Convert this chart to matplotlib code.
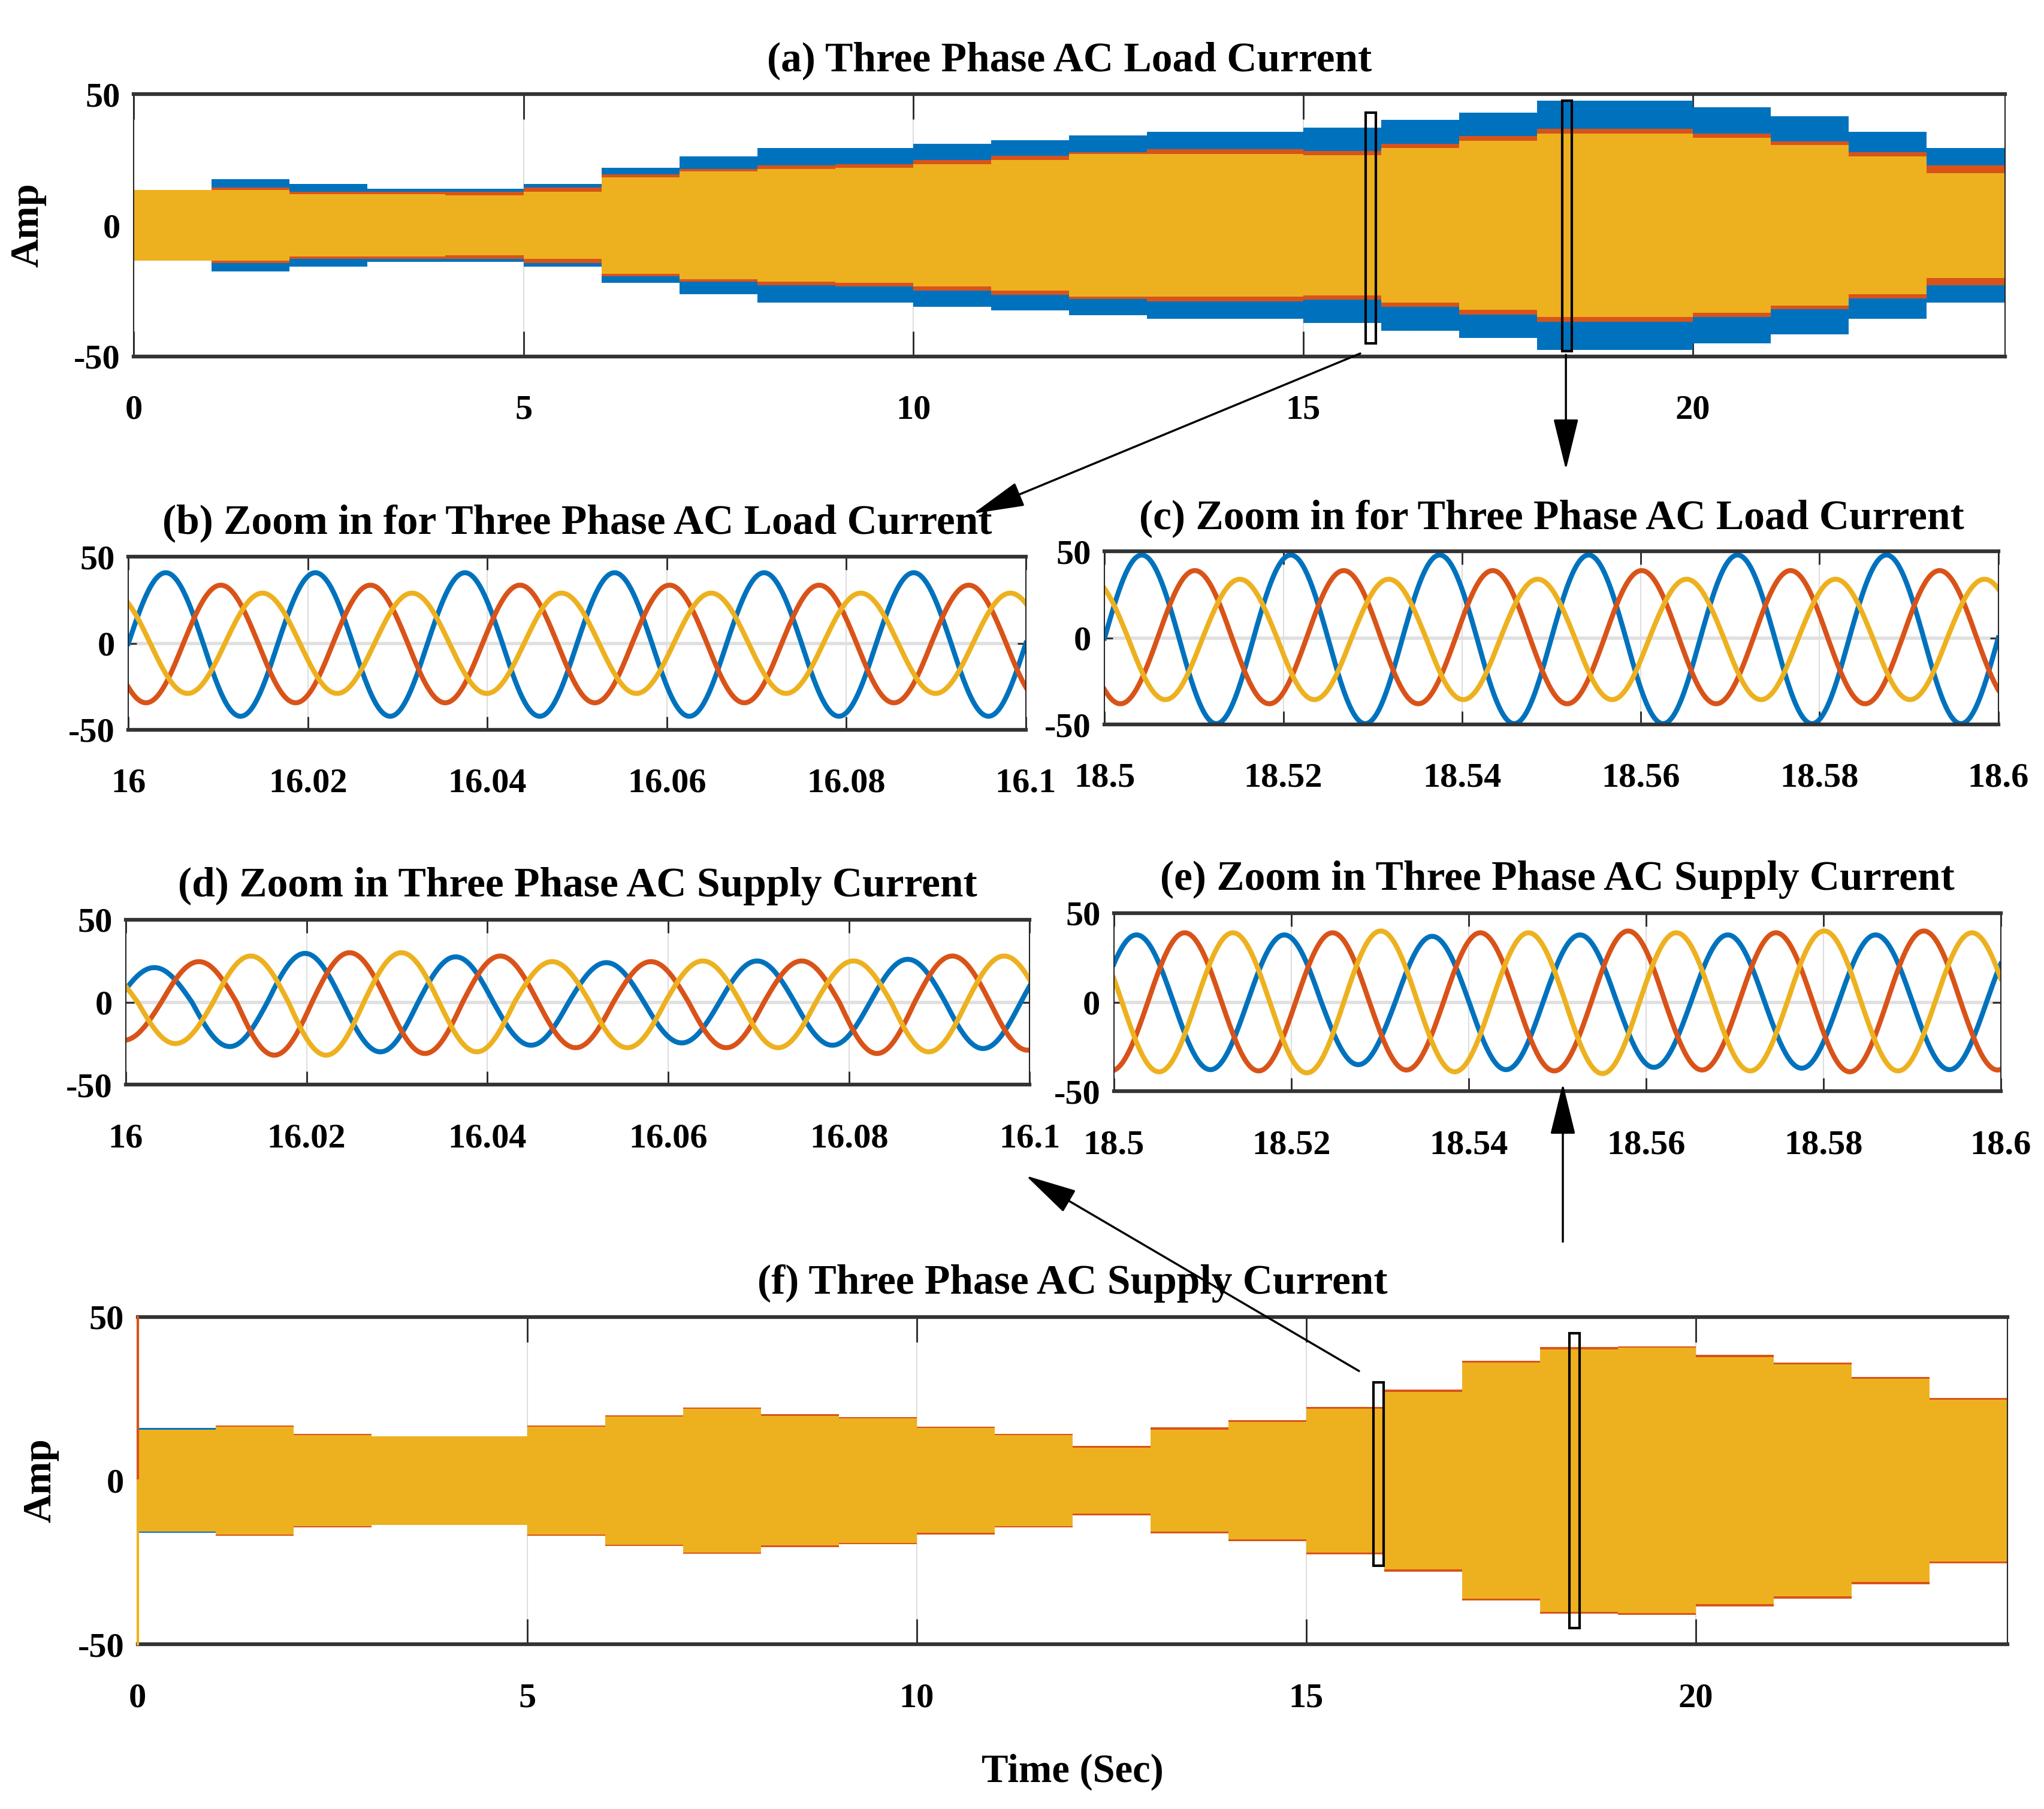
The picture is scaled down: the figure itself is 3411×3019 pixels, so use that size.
import numpy as np
import matplotlib.pyplot as plt
from matplotlib.patches import Rectangle, FancyArrowPatch

plt.rcParams['font.family'] = ['Liberation Serif', 'DejaVu Serif']
plt.rcParams['font.weight'] = 'bold'
plt.rcParams['axes.titleweight'] = 'bold'
plt.rcParams['axes.labelweight'] = 'bold'
plt.rcParams['axes.unicode_minus'] = False

# MATLAB default colour order: phase a, b, c
c_a, c_b, c_c = '#0072BD', '#D95319', '#EDB120'

## Data
# hourly (1 s per hour) peak amplitude of each phase, 0..24 s
hours = np.arange(25)
load_a = [12.0, 17.6, 15.8, 14.0, 14.0, 15.8, 22.0, 26.2, 29.5, 29.5, 31.0, 32.5,
          34.3, 35.6, 35.6, 37.3, 40.2, 43.0, 47.6, 47.6, 45.0, 41.7, 35.6, 29.5]
load_b = [12.0, 14.5, 12.9, 12.9, 12.9, 14.5, 19.5, 21.4, 22.8, 23.4, 25.0, 26.5,
          28.0, 29.0, 29.0, 28.4, 31.0, 34.0, 36.7, 36.7, 35.0, 32.0, 27.8, 22.8]
load_c = [13.4, 13.4, 11.8, 11.8, 11.4, 12.9, 18.4, 20.6, 21.4, 22.0, 23.4, 25.0,
          27.3, 27.3, 27.3, 26.7, 29.5, 32.3, 35.0, 35.0, 33.4, 30.6, 26.2, 20.0]

supply_a = [16.0, 16.2, 13.7, 13.5, 13.5, 16.2, 19.4, 21.6, 19.6, 18.8, 15.8, 13.7,
            10.3, 15.4, 17.7, 21.6, 26.8, 35.8, 39.8, 40.3, 37.5, 35.5, 30.8, 24.5]
supply_b = [15.2, 16.9, 14.2, 13.4, 13.4, 16.8, 20.0, 22.3, 20.3, 19.4, 16.4, 14.2,
            10.6, 16.2, 18.4, 22.5, 27.8, 36.6, 40.7, 41.0, 38.4, 36.0, 31.6, 25.2]
supply_c = [15.6, 16.5, 13.9, 13.6, 13.6, 16.4, 19.6, 21.9, 19.8, 19.0, 16.0, 13.9,
            10.0, 15.6, 17.9, 21.9, 27.0, 36.0, 40.0, 40.5, 37.7, 35.4, 31.0, 24.7]
supply_spike = [50, -50]   # start-up transient at t = 0

# zoom windows: start of first half cycle (s) and signed peak of each half cycle (A)
f_grid = 60.0
b_z0 = [16.0, 15.9978, 15.9941]
b_pk_a = [40.8, -42.2] * 7
b_pk_b = [-34.4, 33.6] * 7
b_pk_c = [29.0, -29.0] * 7

c_z0 = [18.5, 18.4976, 18.4943]
c_pk_a = [48.0, -49.5] * 7
c_pk_b = [-38.0, 39.0] * 7
c_pk_c = [34.0, -35.6] * 7

d_z0 = [15.9990, 15.9956, 15.9930]
d_pk_a = [21, -26.8, 29.6, -30, 27.5, -26, 24, -24.6, 25, -26, 26, -28, 27, -26]
d_pk_b = [-23, 24.6, -32, 30, -31, 28, -27.5, 24.6, -27.5, 25, -31, 28, -29, 28]
d_pk_c = [20, -25, 28, -32, 30, -30, 24.6, -27.5, 25, -27.5, 25, -30, 28, -25]

e_z0 = [18.4984, 18.4955, 18.4926]
e_pk_a = [37.8, -37.8, 37.8, -35, 37, -37.8, 37.8, -36.5, 37.8, -37, 37.8, -37.8, 37.8, -37]
e_pk_b = [-38.5, 39, -38.5, 39, -38, 39, -38.5, 40, -38, 39, -39, 40, -38, 39]
e_pk_c = [39, -39, 39, -39.6, 40, -39, 39, -40, 39, -38.5, 40, -38.5, 39, -39]

full_ticks = [0, 5, 10, 15, 20]
full_ticklabels = ['0', '5', '10', '15', '20']
z16_ticks = [16.0, 16.02, 16.04, 16.06, 16.08, 16.1]
z16_ticklabels = ['16', '16.02', '16.04', '16.06', '16.08', '16.1']
z185_ticks = [18.5, 18.52, 18.54, 18.56, 18.58, 18.6]
z185_ticklabels = ['18.5', '18.52', '18.54', '18.56', '18.58', '18.6']
y_ticks = [-50, 0, 50]


def waveform(t, z0, peaks, f=f_grid):
    # each half cycle is a sine lobe scaled by its read peak value
    u = (t - z0) * 2 * f
    k = np.clip(np.floor(u).astype(int), 0, len(peaks) - 1)
    return np.asarray(peaks)[k] * np.abs(np.sin(np.pi * u))


def style_axes(ax, xlim, xticks, xticklabels, ticklen):
    ax.set_xlim(xlim)
    ax.set_ylim(-50, 50)
    ax.set_xticks(xticks)
    ax.set_xticklabels(xticklabels)
    ax.set_yticks(y_ticks)
    ax.grid(axis='x', color='0.87', lw=1.5)
    ax.grid(axis='y', color='0.88', lw=4)
    ax.set_axisbelow(True)
    for s in ('top', 'bottom'):
        ax.spines[s].set_linewidth(4.5)
        ax.spines[s].set_color('0.2')
    for s in ('left', 'right'):
        ax.spines[s].set_linewidth(1.5)
        ax.spines[s].set_color('0.15')
    ax.tick_params(direction='in', top=True, right=True, width=2,
                   colors='0.15', labelcolor='k', labelsize=42)
    ax.tick_params(axis='x', length=ticklen, pad=46)
    ax.tick_params(axis='y', length=10, pad=16)


def envelope(ax, amps, colors):
    for amp, col in zip(amps, colors):
        a = np.append(amp, amp[-1])
        ax.fill_between(hours, -a, a, step='post', color=col, lw=0)


fig = plt.figure(figsize=(34.11, 30.19), dpi=100)

# (a) load current over the day
ax_a = fig.add_axes([0.0654, 0.8030, 0.9154, 0.1449])
envelope(ax_a, [load_a, load_b, load_c], [c_a, c_b, c_c])
style_axes(ax_a, (0, 24), full_ticks, full_ticklabels, 30)
ax_a.set_title('(a) Three Phase AC Load Current', fontsize=50, pad=28)
ax_a.set_ylabel('Amp', fontsize=48)
ax_a.yaxis.set_label_coords(-0.0467, 0.5)
ax_a.add_patch(Rectangle((15.8, -45), 0.13, 88, fill=False, ec='k', lw=3, zorder=5))
ax_a.add_patch(Rectangle((18.32, -48), 0.13, 95.5, fill=False, ec='k', lw=3, zorder=5))

# zoom panels
panels = [
    ([0.0628, 0.5966, 0.4391, 0.0956], (16.0, 16.1), z16_ticks, z16_ticklabels,
     b_z0, [b_pk_a, b_pk_b, b_pk_c], '(b) Zoom in for Three Phase AC Load Current'),
    ([0.5404, 0.5995, 0.4372, 0.0956], (18.5, 18.6), z185_ticks, z185_ticklabels,
     c_z0, [c_pk_a, c_pk_b, c_pk_c], '(c) Zoom in for Three Phase AC Load Current'),
    ([0.0615, 0.4003, 0.4423, 0.0913], (16.0, 16.1), z16_ticks, z16_ticklabels,
     d_z0, [d_pk_a, d_pk_b, d_pk_c], '(d) Zoom in Three Phase AC Supply Current'),
    ([0.5449, 0.3967, 0.4339, 0.0985], (18.5, 18.6), z185_ticks, z185_ticklabels,
     e_z0, [e_pk_a, e_pk_b, e_pk_c], '(e) Zoom in Three Phase AC Supply Current'),
]
for rect, xlim, ticks, labels, z0s, pks, title in panels:
    ax = fig.add_axes(rect)
    t = np.linspace(xlim[0], xlim[1], 4000)
    for z0, pk, col in zip(z0s, pks, [c_a, c_b, c_c]):
        ax.plot(t, waveform(t, z0, pk), color=col, lw=6)
    style_axes(ax, xlim, ticks, labels, 16)
    ax.set_title(title, fontsize=50, pad=28)

# (f) supply current over the day
ax_f = fig.add_axes([0.0673, 0.0910, 0.9148, 0.1811])
envelope(ax_f, [supply_a, supply_b, supply_c], [c_a, c_b, c_c])
ax_f.plot([0, 0], [0, supply_spike[0]], color=c_b, lw=3, clip_on=False, zorder=3)
ax_f.plot([0, 0], [0, supply_spike[1]], color=c_c, lw=3, clip_on=False, zorder=3)
style_axes(ax_f, (0, 24), full_ticks, full_ticklabels, 30)
ax_f.set_title('(f) Three Phase AC Supply Current', fontsize=50, pad=28)
ax_f.set_ylabel('Amp', fontsize=48)
ax_f.yaxis.set_label_coords(-0.042, 0.5)
ax_f.set_xlabel('Time (Sec)', fontsize=48)
ax_f.xaxis.set_label_coords(0.5, -0.333)
ax_f.add_patch(Rectangle((15.86, -26), 0.13, 56, fill=False, ec='k', lw=3, zorder=5))
ax_f.add_patch(Rectangle((18.38, -45), 0.13, 90, fill=False, ec='k', lw=3, zorder=5))

# arrows linking the marked windows to the zoom panels
arrows = [((0.6655, 0.8046), (0.4761, 0.7161)),
          ((0.7661, 0.8039), (0.7661, 0.7403)),
          ((0.6649, 0.2421), (0.5019, 0.3501)),
          ((0.7646, 0.3136), (0.7646, 0.4011))]
for tail, head in arrows:
    fig.add_artist(FancyArrowPatch(tail, head, transform=fig.transFigure,
                                   arrowstyle='-|>,head_length=0.9,head_width=0.22',
                                   mutation_scale=60, lw=2.5, color='k',
                                   shrinkA=0, shrinkB=0))

fig.savefig('out.png', dpi=100)
